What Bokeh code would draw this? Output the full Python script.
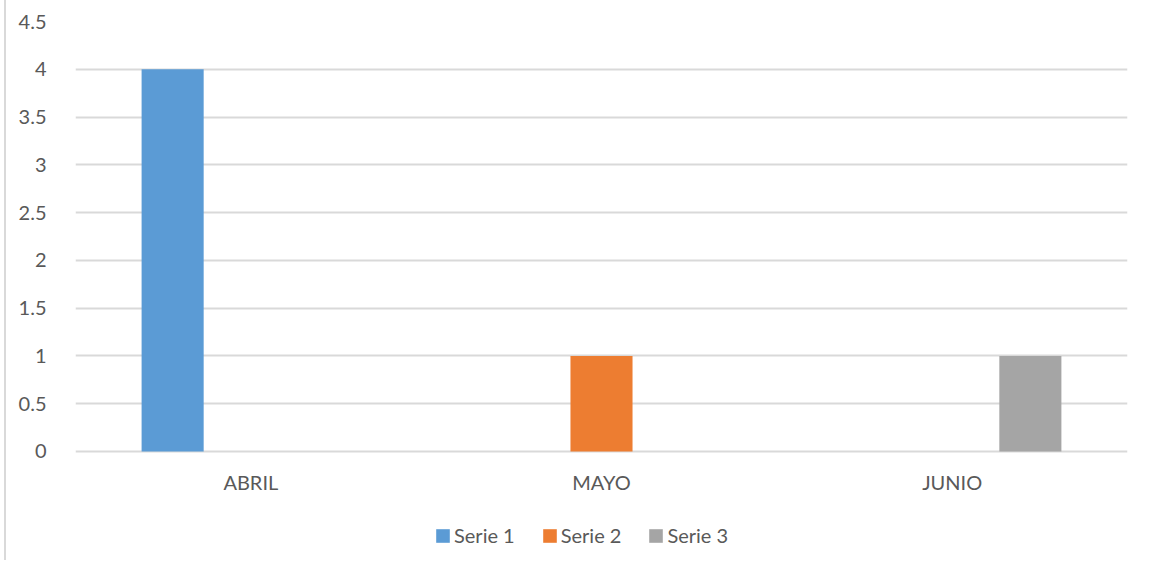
from bokeh.plotting import figure
from bokeh.models import ColumnDataSource, FactorRange, Legend, LegendItem, Range1d, FixedTicker, InlineStyleSheet
from bokeh.transform import dodge
from bokeh.embed import file_html
from bokeh.resources import INLINE

months = ["ABRIL", "MAYO", "JUNIO"]
series_names = ["Serie 1", "Serie 2", "Serie 3"]
serie1 = [4, 0, 0]
serie2 = [0, 1, 0]
serie3 = [0, 0, 1]
colors = ["#5B9BD5", "#ED7D31", "#A5A5A5"]
y_ticks = [0, 0.5, 1, 1.5, 2, 2.5, 3, 3.5, 4, 4.5]

src = ColumnDataSource(dict(months=months, s1=serie1, s2=serie2, s3=serie3))

FONT = "Lato"
TXT = "#595959"

# frame spans the full lower area so that the legend can sit inside it;
# value 0 falls at the bottom of the gridlines, the space below holds labels and legend
Y_BOTTOM = -1.1407
p = figure(x_range=FactorRange(*months, range_padding=0), y_range=Range1d(Y_BOTTOM, 4.5),
           width=1140, height=560, output_backend="svg", toolbar_location=None,
           min_border_left=75, min_border_right=13, min_border_top=21, min_border_bottom=0)

offsets = [-0.223, 0.0, 0.223]
renderers = []
for col, off, c in zip(["s1", "s2", "s3"], offsets, colors):
    r = p.vbar(x=dodge("months", off, range=p.x_range), top=col, bottom=0, width=0.177,
               source=src, fill_color=c, line_color=None)
    renderers.append(r)

p.outline_line_color = None
p.border_fill_color = None
p.xgrid.grid_line_color = None
p.ygrid.grid_line_color = "#d9d9d9"
p.ygrid.grid_line_width = 2
p.yaxis.ticker = FixedTicker(ticks=y_ticks)
p.yaxis.major_label_overrides = {0: "0", 1: "1", 2: "2", 3: "3", 4: "4"}
p.xaxis.fixed_location = 0

for ax in (p.xaxis[0], p.yaxis[0]):
    ax.axis_line_color = None
    ax.major_tick_line_color = None
    ax.minor_tick_line_color = None
    ax.major_label_text_font = FONT
    ax.major_label_text_font_size = "20px"
    ax.major_label_text_color = TXT
p.yaxis.major_label_standoff = 23
p.xaxis.major_label_standoff = 13

legend = Legend(items=[LegendItem(label=n, renderers=[r]) for n, r in zip(series_names, renderers)],
                orientation="horizontal", location=(359, 13), padding=0, margin=0,
                border_line_color=None, background_fill_alpha=0,
                glyph_width=17, glyph_height=17, label_standoff=3, spacing=26,
                label_text_font=FONT, label_text_font_size="20px", label_text_color=TXT,
                label_height=17)
p.add_layout(legend, "center")

p.stylesheets = [InlineStyleSheet(css=":host { background: linear-gradient(to right, #ffffff 0px, #ffffff 4px, #d9d9d9 4px, #d9d9d9 6px, #ffffff 6px, #ffffff 100%); }")]

open("out.html", "w").write(file_html(p, INLINE))
